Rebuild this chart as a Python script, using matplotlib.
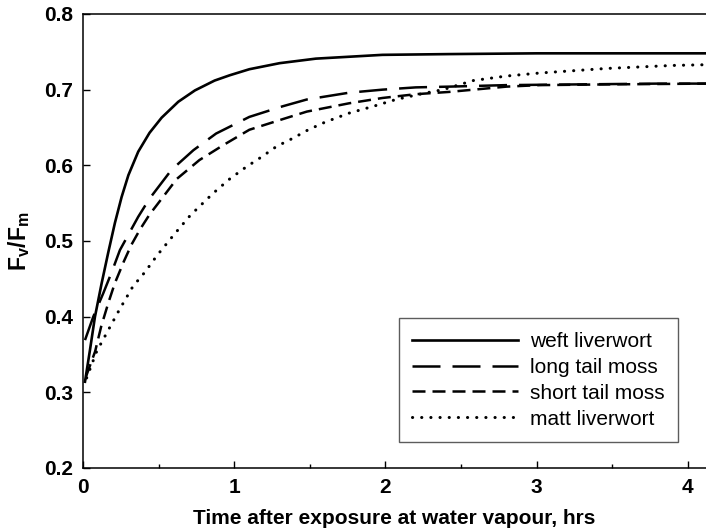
import matplotlib
matplotlib.use('Agg')
import matplotlib.pyplot as plt
from matplotlib.ticker import MultipleLocator

plt.rcParams['font.family'] = ['Liberation Sans', 'DejaVu Sans']
plt.rcParams['mathtext.fontset'] = 'custom'
plt.rcParams['mathtext.bf'] = 'Liberation Sans:bold'
plt.rcParams['mathtext.rm'] = 'Liberation Sans:bold'
plt.rcParams['mathtext.it'] = 'Liberation Sans:bold'
plt.rcParams['mathtext.default'] = 'bf'

# values (time in hrs, Fv/Fm)
weft_t = [0.013, 0.046, 0.079, 0.123, 0.167, 0.211, 0.255, 0.30, 0.365, 0.44, 0.52, 0.63,
          0.74, 0.87, 0.97, 1.10, 1.30, 1.54, 1.98, 2.42, 3.0, 3.5, 4.13]
weft_v = [0.314, 0.356, 0.400, 0.444, 0.485, 0.524, 0.558, 0.587, 0.618, 0.643, 0.663, 0.684,
          0.699, 0.712, 0.719, 0.727, 0.735, 0.741, 0.746, 0.747, 0.748, 0.748, 0.748]

long_t = [0.013, 0.068, 0.134, 0.19, 0.244, 0.31, 0.365, 0.44, 0.585, 0.73, 0.88,
          1.10, 1.32, 1.48, 1.76, 1.98, 2.20, 2.42, 2.8, 3.3, 3.8, 4.13]
long_v = [0.369, 0.400, 0.431, 0.459, 0.488, 0.512, 0.532, 0.556, 0.594, 0.620, 0.642,
          0.664, 0.678, 0.687, 0.696, 0.700, 0.703, 0.704, 0.706, 0.707, 0.708, 0.708]

short_t = [0.02, 0.08, 0.12, 0.167, 0.21, 0.27, 0.32, 0.376, 0.44, 0.49, 0.62, 0.77,
           0.93, 1.10, 1.32, 1.48, 1.76, 1.98, 2.20, 2.42, 2.8, 3.02, 3.5, 4.13]
short_v = [0.321, 0.354, 0.387, 0.418, 0.444, 0.473, 0.495, 0.515, 0.535, 0.548, 0.582, 0.607,
           0.627, 0.647, 0.661, 0.671, 0.682, 0.689, 0.694, 0.697, 0.704, 0.706, 0.707, 0.708]

matt_t = [0.024, 0.09, 0.18, 0.24, 0.33, 0.41, 0.49, 0.60, 0.71, 0.86, 0.97, 1.08, 1.18, 1.28,
          1.39, 1.49, 1.60, 1.76, 1.92, 2.07, 2.25, 2.38, 2.58, 2.80, 3.02, 3.24, 3.46, 3.68,
          3.90, 4.13]
matt_v = [0.319, 0.354, 0.387, 0.409, 0.440, 0.459, 0.481, 0.508, 0.534, 0.563, 0.582, 0.598,
          0.611, 0.625, 0.636, 0.647, 0.657, 0.669, 0.678, 0.687, 0.695, 0.700, 0.712, 0.718,
          0.722, 0.725, 0.728, 0.730, 0.732, 0.733]

labels = ['weft liverwort', 'long tail moss', 'short tail moss', 'matt liverwort']

fig = plt.figure(figsize=(7.06, 5.30), dpi=100)
ax = fig.add_axes([0.1176, 0.117, 0.8824, 0.8566])

ax.plot(weft_t, weft_v, color='black', lw=1.9, ls='-', label=labels[0])
ax.plot(long_t, long_v, color='black', lw=1.8, ls=(0, (11.2, 4.8)), label=labels[1])
ax.plot(short_t, short_v, color='black', lw=1.8, ls=(0, (5.2, 2.8)), label=labels[2])
ax.plot(matt_t, matt_v, color='black', lw=2.2, ls=(0, (0.05, 2.95)),
        dash_capstyle='round', label=labels[3])

ax.set_xlim(0, 4.12)
ax.set_ylim(0.2, 0.8)
ax.xaxis.set_minor_locator(MultipleLocator(0.5))
ax.set_yticks([0.2, 0.3, 0.4, 0.5, 0.6, 0.7, 0.8])
ax.set_yticklabels(['0.2', '0.3', '0.4', '0.5', '0.6', '0.7', '0.8'])
ax.set_xticks([0, 1, 2, 3, 4])
ax.set_xticklabels(['0', '1', '2', '3', '4'])

ax.tick_params(which='major', direction='in', length=5, width=1, labelsize=15, pad=7)
ax.tick_params(which='minor', direction='in', length=3.2, width=1)
ax.tick_params(axis='y', which='both', right=False)
ax.tick_params(axis='x', which='both', top=False)
for lab in ax.get_xticklabels() + ax.get_yticklabels():
    lab.set_fontweight('bold')
for s in ax.spines.values():
    s.set_linewidth(1.1)
ax.spines['right'].set_visible(False)

ax.set_xlabel('Time after exposure at water vapour, hrs', fontsize=15, fontweight='bold', labelpad=9)
ax.set_ylabel('$F_v/F_m$', fontsize=16.5, labelpad=9)

leg = ax.legend(loc='lower right', bbox_to_anchor=(0.955, 0.057), borderaxespad=0,
                fontsize=15, frameon=True, fancybox=False, handlelength=5.1,
                handletextpad=0.55, labelspacing=0.33, borderpad=0.65)
leg.get_frame().set_edgecolor('#333333')
leg.get_frame().set_linewidth(1.0)

fig.savefig('out.png', dpi=100)
